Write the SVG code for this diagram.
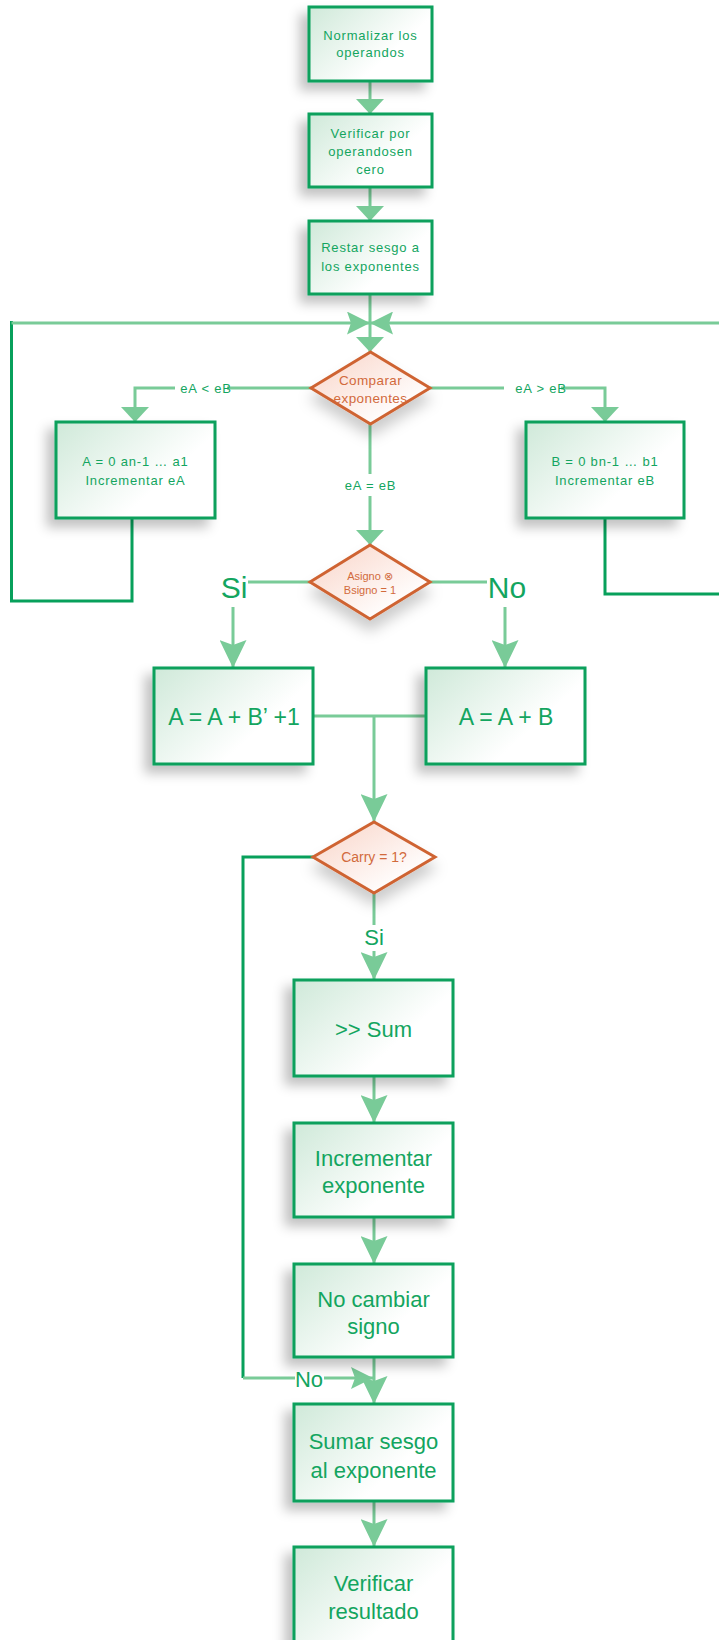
<svg xmlns="http://www.w3.org/2000/svg" width="719" height="1640" viewBox="0 0 719 1640">
  <style>
    .box { stroke: #07a05b; stroke-width: 3; fill: url(#boxFill); filter: url(#boxShadow); }
    .dia { stroke: #cf6433; stroke-width: 3; fill: url(#diaFill); stroke-linejoin: miter; filter: url(#diaShadow); }
    .link { fill: none; stroke: #79cb98; stroke-width: 3; }
    .loop { fill: none; stroke: #07a05b; stroke-width: 3; }
    .t { font-family: "Liberation Sans", Arial, sans-serif; fill: #13a55f; text-anchor: middle; }
    .s13 { font-size: 13px; letter-spacing: 0.8px; }
    .s22 { font-size: 22px; }
    .s23 { font-size: 23px; }
    .d { font-family: "Liberation Sans", Arial, sans-serif; fill: #d26a3c; text-anchor: middle; }
    .lbl { font-family: "Liberation Sans", Arial, sans-serif; fill: #13a55f; text-anchor: middle; }
    .bg { fill: #ffffff; }
  </style>
  <defs>
    <linearGradient id="boxFill" x1="0" y1="0" x2="0.75" y2="0.5">
      <stop offset="0" stop-color="#cfe9d9"/>
      <stop offset="1" stop-color="#ffffff"/>
    </linearGradient>
    <linearGradient id="diaFill" x1="0" y1="0" x2="0.8" y2="0.8">
      <stop offset="0" stop-color="#f9d3c6"/>
      <stop offset="1" stop-color="#ffffff"/>
    </linearGradient>
    <filter id="boxShadow" x="-30%" y="-30%" width="160%" height="170%">
      <feDropShadow dx="-8" dy="8" stdDeviation="6" flood-color="#000" flood-opacity="0.24"/>
    </filter>
    <filter id="diaShadow" x="-30%" y="-30%" width="160%" height="180%">
      <feDropShadow dx="0" dy="11" stdDeviation="7" flood-color="#000" flood-opacity="0.2"/>
    </filter>
    <marker id="flat" viewBox="0 0 15 28" refX="15" refY="14" markerWidth="15" markerHeight="28" markerUnits="userSpaceOnUse" orient="auto">
      <path d="M0,0 L15,14 L0,28 Z" fill="#79cb98"/>
    </marker>
    <marker id="stealth" viewBox="0 0 28 27" refX="28" refY="13.5" markerWidth="28" markerHeight="27" markerUnits="userSpaceOnUse" orient="auto">
      <path d="M0,0 L28,13.5 L0,27 L5,13.5 Z" fill="#79cb98"/>
    </marker>
    <marker id="stealthSm" viewBox="0 0 22 22" refX="22" refY="11" markerWidth="22" markerHeight="22" markerUnits="userSpaceOnUse" orient="auto">
      <path d="M0,0 L22,11 L0,22 L4,11 Z" fill="#79cb98"/>
    </marker>
    <marker id="bow" viewBox="0 0 23 23" refX="23" refY="11.5" markerWidth="23" markerHeight="23" markerUnits="userSpaceOnUse" orient="auto">
      <path d="M0,0 L23,11.5 L0,23 L4,11.5 Z" fill="#79cb98"/>
    </marker>
  </defs>

  <!-- connectors -->
  <g id="connectors">
    <path class="link" d="M370,81 L370,114" marker-end="url(#flat)"/>
    <path class="link" d="M370,187 L370,221" marker-end="url(#flat)"/>
    <path class="link" d="M370,294 L370,352" marker-end="url(#flat)"/>

    <!-- loop back from the eA < eB branch -->
    <path class="loop" d="M132,512 L132,601 L11.5,601 L11.5,321"/>
    <path class="link" d="M11.5,323 L370,323" marker-end="url(#bow)"/>
    <!-- loop back from the eA > eB branch -->
    <path class="loop" d="M605,518 L605,594 L725,594"/>
    <path class="link" d="M725,323 L370,323" marker-end="url(#bow)"/>

    <!-- compare exponents branches -->
    <path class="link" d="M311,388 L135,388 L135,422" marker-end="url(#flat)"/>
    <rect class="bg" x="175" y="380" width="52" height="17"/>
    <text class="lbl" x="206" y="393" font-size="13" letter-spacing="0.8">eA &lt; eB</text>

    <path class="link" d="M430,388 L605,388 L605,422" marker-end="url(#flat)"/>
    <rect class="bg" x="504" y="380" width="57" height="17"/>
    <text class="lbl" x="541" y="393" font-size="13" letter-spacing="0.8">eA &gt; eB</text>

    <path class="link" d="M370,424 L370,545" marker-end="url(#flat)"/>
    <rect class="bg" x="340" y="474" width="61" height="22"/>
    <text class="lbl" x="370.5" y="490" font-size="13" letter-spacing="0.8">eA = eB</text>

    <!-- sign test -->
    <path class="link" d="M310,582 L233,582 L233,668" marker-end="url(#stealth)"/>
    <rect class="bg" x="219" y="567" width="29" height="40"/>
    <text class="lbl" x="234" y="598" font-size="30">Si</text>
    <path class="link" d="M430,582 L505,582 L505,668" marker-end="url(#stealth)"/>
    <rect class="bg" x="487" y="567" width="40" height="40"/>
    <text class="lbl" x="507" y="598" font-size="30">No</text>

    <!-- merge into carry test -->
    <path class="link" d="M313,716 L426,716"/>
    <path class="link" d="M374,716 L374,822" marker-end="url(#stealth)"/>

    <!-- carry test -->
    <path class="link" d="M374,893 L374,980" marker-end="url(#stealth)"/>
    <rect class="bg" x="361" y="925" width="26" height="26"/>
    <text class="lbl" x="374" y="945" font-size="22">Si</text>

    <path class="loop" d="M313,857 L243,857 L243,1378"/>
    <path class="link" d="M243,1378 L373,1378" marker-end="url(#stealthSm)"/>
    <rect class="bg" x="295" y="1364" width="29" height="25"/>
    <text class="lbl" x="309" y="1387" font-size="22">No</text>

    <path class="link" d="M374,1076 L374,1123" marker-end="url(#stealth)"/>
    <path class="link" d="M374,1217 L374,1264" marker-end="url(#stealth)"/>
    <path class="link" d="M374,1357 L374,1404" marker-end="url(#stealth)"/>
    <path class="link" d="M374,1501 L374,1547" marker-end="url(#stealth)"/>
  </g>

  <!-- process steps -->
  <g id="normalizar">
    <rect class="box" x="309" y="7" width="123" height="74"/>
    <text class="t s13" x="370.5" y="40">Normalizar los</text>
    <text class="t s13" x="370.5" y="57">operandos</text>
  </g>
  <g id="verificar-cero">
    <rect class="box" x="309" y="114" width="123" height="73"/>
    <text class="t s13" x="370.5" y="138">Verificar por</text>
    <text class="t s13" x="370.5" y="156">operandosen</text>
    <text class="t s13" x="370.5" y="174">cero</text>
  </g>
  <g id="restar-sesgo">
    <rect class="box" x="309" y="221" width="123" height="73"/>
    <text class="t s13" x="370.5" y="252">Restar sesgo a</text>
    <text class="t s13" x="370.5" y="271">los exponentes</text>
  </g>
  <g id="comparar">
    <polygon class="dia" points="311,388 370.5,352 430,388 370.5,424"/>
    <text class="d" x="370.5" y="385" font-size="13.5" letter-spacing="0.4">Comparar</text>
    <text class="d" x="370.5" y="403" font-size="13.5" letter-spacing="0.4">exponentes</text>
  </g>
  <g id="desplazar-a">
    <rect class="box" x="56" y="422" width="159" height="96"/>
    <text class="t s13" x="135.5" y="466">A = 0 an-1 … a1</text>
    <text class="t s13" x="135.5" y="485">Incrementar eA</text>
  </g>
  <g id="desplazar-b">
    <rect class="box" x="526" y="422" width="158" height="96"/>
    <text class="t s13" x="605" y="466">B = 0 bn-1 … b1</text>
    <text class="t s13" x="605" y="485">Incrementar eB</text>
  </g>
  <g id="signo">
    <polygon class="dia" points="310,582 370,545 430,582 370,619"/>
    <text class="d" x="370" y="580" font-size="11">Asigno ⊗</text>
    <text class="d" x="370" y="594" font-size="11">Bsigno = 1</text>
  </g>
  <g id="restar">
    <rect class="box" x="154" y="668" width="159" height="96"/>
    <text class="t s23" x="234" y="725">A = A + B’ +1</text>
  </g>
  <g id="sumar">
    <rect class="box" x="426" y="668" width="159" height="96"/>
    <text class="t s23" x="506" y="725">A = A + B</text>
  </g>
  <g id="carry">
    <polygon class="dia" points="313,857 374,822 435,857 374,893"/>
    <text class="d" x="374" y="862" font-size="14">Carry = 1?</text>
  </g>
  <g id="shift-sum">
    <rect class="box" x="294" y="980" width="159" height="96"/>
    <text class="t s22" x="373.5" y="1037">&gt;&gt; Sum</text>
  </g>
  <g id="incrementar-exp">
    <rect class="box" x="294" y="1123" width="159" height="94"/>
    <text class="t s22" x="373.5" y="1166">Incrementar</text>
    <text class="t s22" x="373.5" y="1193">exponente</text>
  </g>
  <g id="no-cambiar">
    <rect class="box" x="294" y="1264" width="159" height="93"/>
    <text class="t s22" x="373.5" y="1307">No cambiar</text>
    <text class="t s22" x="373.5" y="1334">signo</text>
  </g>
  <g id="sumar-sesgo">
    <rect class="box" x="294" y="1404" width="159" height="97"/>
    <text class="t s22" x="373.5" y="1449">Sumar sesgo</text>
    <text class="t s22" x="373.5" y="1478">al exponente</text>
  </g>
  <g id="verificar-resultado">
    <rect class="box" x="294" y="1547" width="159" height="100"/>
    <text class="t s22" x="373.5" y="1591">Verificar</text>
    <text class="t s22" x="373.5" y="1619">resultado</text>
  </g>
</svg>
